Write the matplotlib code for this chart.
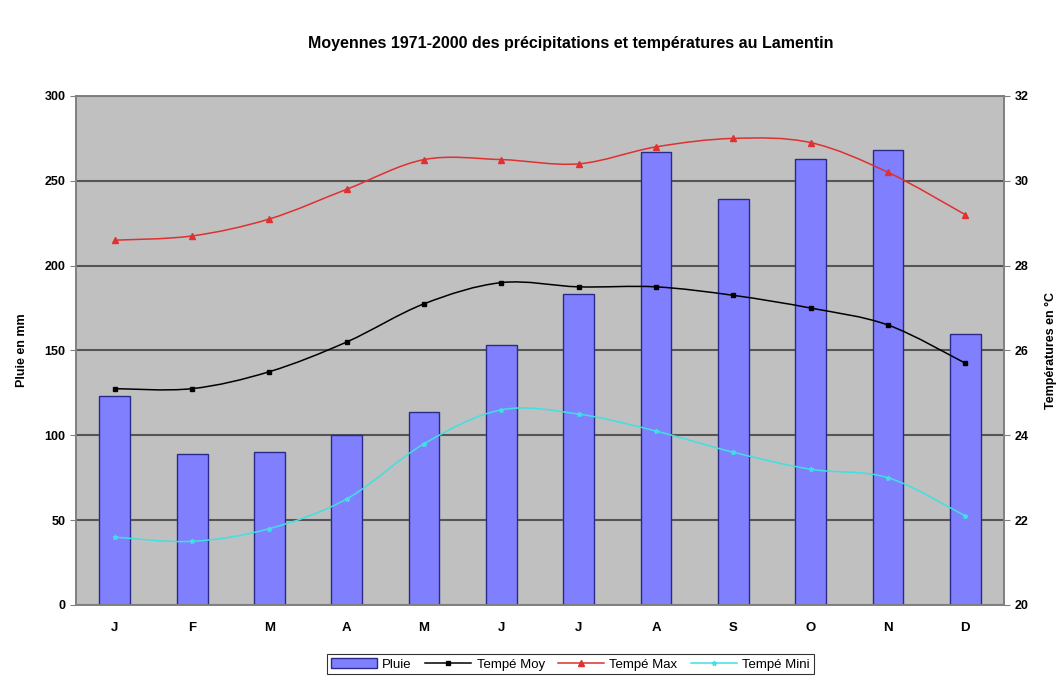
import numpy as np
import matplotlib.pyplot as plt
from matplotlib.path import Path
from matplotlib.patches import PathPatch
from matplotlib.lines import Line2D
from matplotlib.patches import Patch

plt.rcParams['font.family'] = ['Liberation Sans', 'DejaVu Sans']

# données Le Lamentin 1971-2000
mois = ["J", "F", "M", "A", "M", "J", "J", "A", "S", "O", "N", "D"]
pluie = [123, 89, 90, 100, 114, 153, 183, 267, 239, 263, 268, 160]
t_moy = [25.1, 25.1, 25.5, 26.2, 27.1, 27.6, 27.5, 27.5, 27.3, 27.0, 26.6, 25.7]
t_max = [28.6, 28.7, 29.1, 29.8, 30.5, 30.5, 30.4, 30.8, 31.0, 30.9, 30.2, 29.2]
t_min = [21.6, 21.5, 21.8, 22.5, 23.8, 24.6, 24.5, 24.1, 23.6, 23.2, 23.0, 22.1]


def smooth_path(x, y):
	# courbe lissée façon Excel (Bezier passant par les points)
	x = np.asarray(x, float)
	y = np.asarray(y, float)
	verts = [(x[0], y[0])]
	codes = [Path.MOVETO]
	n = len(x)
	for i in range(n - 1):
		p0 = (x[max(i - 1, 0)], y[max(i - 1, 0)])
		p1 = (x[i], y[i])
		p2 = (x[i + 1], y[i + 1])
		p3 = (x[min(i + 2, n - 1)], y[min(i + 2, n - 1)])
		c1 = (p1[0] + (p2[0] - p0[0]) / 6, p1[1] + (p2[1] - p0[1]) / 6)
		c2 = (p2[0] - (p3[0] - p1[0]) / 6, p2[1] - (p3[1] - p1[1]) / 6)
		verts += [c1, c2, p2]
		codes += [Path.CURVE4] * 3
	return Path(verts, codes)


fig = plt.figure(figsize=(10.62, 6.86), dpi=100)
ax = fig.add_axes([0.0716, 0.1181, 0.8738, 0.742])
ax.set_facecolor("#c0c0c0")

x = np.arange(len(mois))
ax.bar(x, pluie, width=0.4, color="#8080ff", edgecolor="#2a2a8a", linewidth=1, zorder=2)
ax.set_ylim(0, 300)
ax.set_xlim(-0.5, 11.5)
ax.set_yticks(range(0, 301, 50))
ax.yaxis.grid(True, color="#555555", linewidth=1.5, zorder=0)
ax.set_axisbelow(True)
ax.set_xticks(x)
ax.set_xticklabels(mois, fontweight="bold", fontsize=9.5)
ax.tick_params(axis="y", labelsize=9, length=4, color="#808080")
ax.tick_params(axis="x", length=0, pad=12)
for t in ax.get_yticklabels():
	t.set_fontweight("bold")
ax.set_ylabel("Pluie en mm", fontsize=9, fontweight="bold", labelpad=12)
for s in ax.spines.values():
	s.set_color("#808080")
	s.set_linewidth(1.2)

ax2 = ax.twinx()
ax2.set_ylim(20, 32)
ax2.set_yticks(range(20, 33, 2))
ax2.tick_params(axis="y", labelsize=9, length=4, color="#808080")
for t in ax2.get_yticklabels():
	t.set_fontweight("bold")
ax2.set_ylabel("Températures en °C", fontsize=9, fontweight="bold", labelpad=12)
for s in ax2.spines.values():
	s.set_color("#808080")
	s.set_linewidth(1.2)

series = [
	(t_moy, "black", "s", 3.5, "Tempé Moy"),
	(t_max, "#e03030", "^", 4, "Tempé Max"),
	(t_min, "#40e0e0", "*", 3.5, "Tempé Mini"),
]
for vals, col, mk, ms, lab in series:
	ax2.add_patch(PathPatch(smooth_path(x, vals), facecolor="none", edgecolor=col, lw=1.1, zorder=3))
	ax2.plot(x, vals, linestyle="none", marker=mk, color=col, markersize=ms, zorder=4)

fig.text(0.537, 0.937, "Moyennes 1971-2000 des précipitations et températures au Lamentin",
	ha="center", va="center", fontsize=11.5, fontweight="bold")

handles = [Patch(facecolor="#8080ff", edgecolor="#2a2a8a", label="Pluie")]
for vals, col, mk, ms, lab in series:
	handles.append(Line2D([0], [0], color=col, marker=mk, markersize=ms, lw=1.1, label=lab))
leg = fig.legend(handles=handles, loc="center", bbox_to_anchor=(0.537, 0.0315), ncol=4,
	fontsize=9.5, frameon=True, fancybox=False, edgecolor="black", handlelength=3.5,
	handletextpad=0.4, columnspacing=1.0, borderpad=0.3)
leg.get_frame().set_linewidth(0.8)

fig.savefig("out.png", dpi=100)
